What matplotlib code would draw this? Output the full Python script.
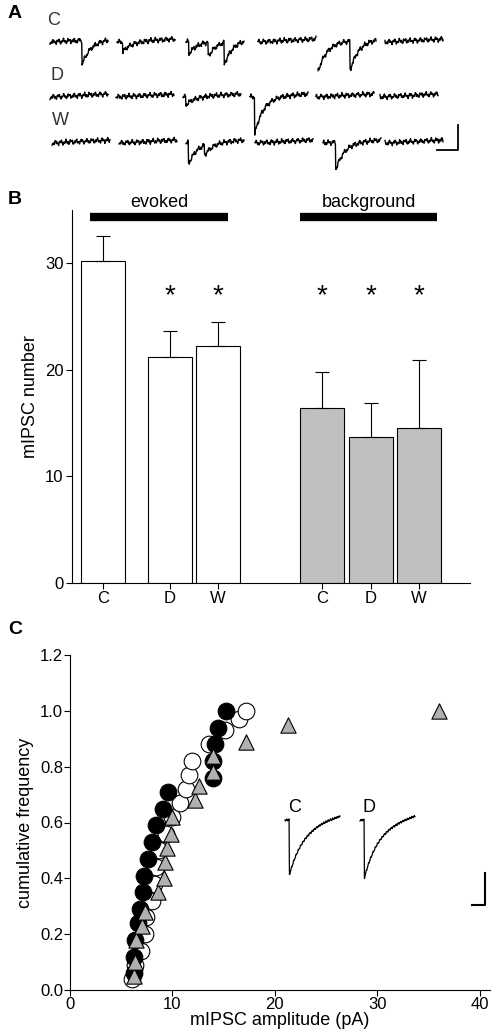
import matplotlib.pyplot as plt
import numpy as np

plt.rcParams['font.family'] = ['Liberation Sans', 'DejaVu Sans']

# Panel B data
groups = ['C', 'D', 'W', 'C', 'D', 'W']
bar_vals = [30.2, 21.2, 22.2, 16.4, 13.7, 14.5]
bar_errs = [2.4, 2.4, 2.3, 3.4, 3.2, 6.4]
bar_colors = ['white', 'white', 'white', '#c0c0c0', '#c0c0c0', '#c0c0c0']
bar_pos = [31, 98, 146, 250, 299, 347]
starred = [False, True, True, True, True, True]

# Panel C data (amplitude pA, cumulative frequency)
c_x = [6.2, 6.2, 6.3, 6.6, 6.8, 7.1, 7.2, 7.6, 8.0, 8.4, 9.1, 9.6, 14.0, 14.0, 14.2, 14.4, 15.2]
c_y = [0.06, 0.12, 0.18, 0.24, 0.29, 0.35, 0.41, 0.47, 0.53, 0.59, 0.65, 0.71, 0.76, 0.82, 0.88, 0.94, 1.0]
d_x = [6.1, 6.3, 6.9, 7.3, 7.4, 8.0, 8.2, 8.4, 8.7, 9.4, 10.0, 10.7, 11.3, 11.6, 11.9, 13.6, 15.1, 16.5, 17.2]
d_y = [0.04, 0.09, 0.14, 0.20, 0.26, 0.32, 0.38, 0.44, 0.50, 0.56, 0.62, 0.67, 0.72, 0.77, 0.82, 0.88, 0.93, 0.97, 1.0]
w_x = [6.2, 6.3, 6.4, 7.0, 7.3, 8.6, 9.2, 9.3, 9.5, 9.9, 10.0, 12.2, 12.6, 14.0, 14.0, 17.2, 21.3, 36.0]
w_y = [0.05, 0.10, 0.18, 0.23, 0.28, 0.35, 0.40, 0.46, 0.51, 0.56, 0.62, 0.68, 0.73, 0.78, 0.84, 0.89, 0.95, 1.0]

# Panel A traces: rows of (baseline y, segments as (start x, events as (frac, depth)))
trace_rows = {
    'C': (42, [(50, [(0.55, 25)]), (117, [(0.1, 10)]), (186, [(0.05, 12), (0.38, 15), (0.66, 22)]),
               (258, []), (318, [(0.0, 30), (0.55, 30)]), (385, [])]),
    'D': (97, [(50, []), (116, []), (183, [(0.05, 8)]), (250, [(0.08, 38)]),
               (316, []), (380, [])]),
    'W': (143, [(52, []), (119, []), (186, [(0.04, 22), (0.32, 10)]),
                (255, []), (323, [(0.22, 28)]), (385, [])]),
}

W, H = 498, 1029
fig = plt.figure(figsize=(W / 100, H / 100), dpi=100)

# ---- Panel A
axA = fig.add_axes([0, 1 - 170 / H, 1, 170 / H])
axA.set_xlim(0, W)
axA.set_ylim(170, 0)
axA.axis('off')
t = np.linspace(0, 1, 160)
k = 0
for name, (base, segs) in trace_rows.items():
    for x0, events in segs:
        k += 1
        wig = 1.4 * np.sin(t * 70 + k) + 1.0 * np.sin(t * 173 + 2 * k) + 0.8 * np.sin(t * 331 + 3 * k)
        y = base + wig - 3 * t
        for f, d in events:
            m = t >= f
            y[m] += d * np.exp(-(t[m] - f) / 0.15)
        axA.plot(x0 + t * 58, y, color='black', lw=1.0)
axA.plot([437, 458, 458], [150, 150, 125], color='black', lw=1.3)
for name, (xl, yl) in {'C': (47, 25), 'D': (50, 80), 'W': (52, 125)}.items():
    axA.text(xl, yl, name, fontsize=13, color='#333333')
axA.text(8, 18, 'A', fontsize=14, fontweight='bold')

# ---- Panel B
bl, br, bt, bb = 72, 470, 210, 583
axB = fig.add_axes([bl / W, 1 - bb / H, (br - bl) / W, (bb - bt) / H])
axB.bar(bar_pos, bar_vals, width=44, color=bar_colors, edgecolor='black', lw=0.8,
        yerr=[[0] * 6, bar_errs], error_kw=dict(ecolor='black', elinewidth=0.8, capsize=5, capthick=0.8))
for xp, s in zip(bar_pos, starred):
    if s:
        axB.text(xp, 26.3, '*', ha='center', fontsize=20)
axB.set_xlim(0, br - bl)
axB.set_ylim(0, 35)
axB.set_yticks([0, 10, 20, 30])
axB.set_xticks(bar_pos)
axB.set_xticklabels(groups)
axB.spines[['top', 'right']].set_visible(False)
axB.tick_params(labelsize=12, direction='out', length=4, pad=2)
axB.set_ylabel('mIPSC number', fontsize=13)
axB.plot([18, 156], [34.3, 34.3], color='black', lw=6, clip_on=False, solid_capstyle='butt')
axB.plot([228, 365], [34.3, 34.3], color='black', lw=6, clip_on=False, solid_capstyle='butt')
axB.text(87, 35.3, 'evoked', ha='center', fontsize=13)
axB.text(297, 35.3, 'background', ha='center', fontsize=13)
fig.text(8 / W, 1 - 200 / H, 'B', fontsize=14, fontweight='bold', va='center')

# ---- Panel C
cl, cr, ct, cb = 70, 490, 655, 990
axC = fig.add_axes([cl / W, 1 - cb / H, (cr - cl) / W, (cb - ct) / H])
ms = 12
axC.scatter(d_x, d_y, s=ms ** 2, facecolor='white', edgecolor='black', lw=0.8, zorder=2)
axC.scatter(c_x, c_y, s=ms ** 2, facecolor='black', edgecolor='black', lw=0.8, zorder=3)
axC.scatter(w_x, w_y, s=(ms - 1) ** 2, marker='^', facecolor='#b0b0b0', edgecolor='black', lw=0.8, zorder=4)
axC.set_xlim(0, 41)
axC.set_ylim(0, 1.2)
axC.set_xticks([0, 10, 20, 30, 40])
axC.set_yticks(np.arange(0, 1.21, 0.2))
axC.set_yticklabels(['%.1f' % v for v in np.arange(0, 1.21, 0.2)])
axC.spines[['top', 'right']].set_visible(False)
axC.tick_params(labelsize=12, length=4, pad=1)
axC.set_xlabel('mIPSC amplitude (pA)', fontsize=13, labelpad=0)
axC.set_ylabel('cumulative frequency', fontsize=13)
fig.text(8 / W, 1 - 630 / H, 'C', fontsize=14, fontweight='bold', va='center')

# inset traces in panel C (pixel coords overlay)
axI = fig.add_axes([0, 1 - cb / H, 1, (cb - ct) / H])
axI.set_xlim(0, W)
axI.set_ylim(cb, ct)
axI.axis('off')
ti = np.linspace(0, 1, 150)
for j, (x0, depth, lab) in enumerate([(285, 55, 'C'), (360, 58, 'D')]):
    y = 820 + 0.7 * np.sin(ti * 150 + j) + 0.5 * np.sin(ti * 310 + j)
    m = ti >= 0.08
    y[m] += depth * np.exp(-(ti[m] - 0.08) / 0.25) + 8 * (1 - np.exp(-(ti[m] - 0.08) / 0.25)) - 14 * (ti[m] - 0.08)
    axI.plot(x0 + ti * 55, y, color='black', lw=0.9)
    axI.text(x0 + 3, 812, lab, fontsize=13, ha='left')
axI.plot([472, 485, 485], [905, 905, 873], color='black', lw=1.5)

fig.savefig('out.png', dpi=100)
